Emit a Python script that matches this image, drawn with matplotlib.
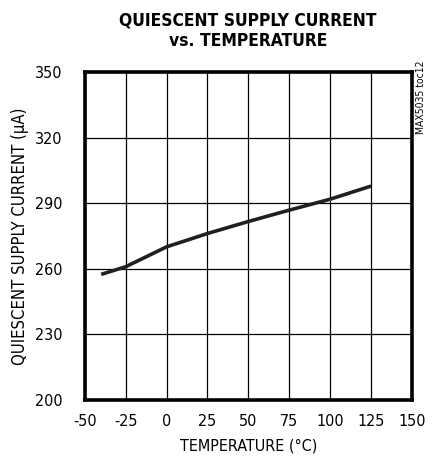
import numpy as np
import matplotlib
matplotlib.use("Agg")
import matplotlib.pyplot as plt

plt.rcParams['font.family'] = ['DejaVu Sans']
plt.rcParams['font.stretch'] = 'condensed'

# temperature (C) and quiescent supply current (uA)
temperature = [-40, -25, 0, 25, 50, 75, 100, 125]
current = [257.5, 261.0, 270.1, 276.2, 281.7, 286.9, 291.9, 297.9]

x_ticks = [-50, -25, 0, 25, 50, 75, 100, 125, 150]
y_ticks = [200, 230, 260, 290, 320, 350]

fig = plt.figure(figsize=(4.35, 4.63), dpi=100)
ax = fig.add_axes([0.195, 0.136, 0.752, 0.708])

ax.plot(temperature, current, color='#231f20', linewidth=2.6, solid_capstyle='butt')

ax.set_xlim(-50, 150)
ax.set_ylim(200, 350)
ax.set_xticks(x_ticks)
ax.set_yticks(y_ticks)
ax.set_xticklabels([str(t) for t in x_ticks], fontsize=11.5)
ax.set_yticklabels([str(t) for t in y_ticks], fontsize=11.5)
ax.tick_params(axis='x', length=0, pad=10)
ax.tick_params(axis='y', length=0, pad=16)
ax.grid(True, color='black', linewidth=0.9)
for s in ax.spines.values():
    s.set_linewidth(2.6)

ax.set_xlabel('TEMPERATURE (°C)', fontsize=11.5, labelpad=7)
ax.set_ylabel('QUIESCENT SUPPLY CURRENT (µA)', fontsize=12, labelpad=4)

fig.text(0.57, 0.955, 'QUIESCENT SUPPLY CURRENT', ha='center', va='center',
         fontsize=12.5, fontweight='bold')
fig.text(0.57, 0.912, 'vs. TEMPERATURE', ha='center', va='center',
         fontsize=12.5, fontweight='bold')
fig.text(0.968, 0.79, 'MAX5035 toc12', rotation=90, ha='center', va='center',
         fontsize=7.5)

fig.savefig('out.png', dpi=100)
